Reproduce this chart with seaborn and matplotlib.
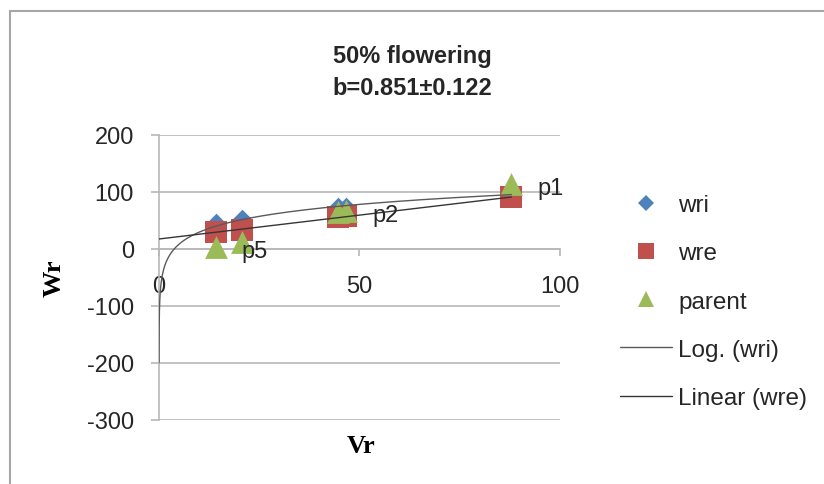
import numpy as np
import pandas as pd
import matplotlib
matplotlib.use("Agg")
import matplotlib.pyplot as plt
from matplotlib.lines import Line2D
import seaborn as sns

# ---------------- data ----------------
vr = [14.2, 20.7, 44.6, 46.7, 87.9]
wri = [43.5, 49.5, 71.0, 71.5, 100.0]
wre = [29.5, 32.5, 56.0, 56.5, 90.0]
parent = [3.5, 12.0, 65.0, 67.0, 113.0]
parent_labels = ["p5", "", "", "p2", "p1"]
series_names = ["wri", "wre", "parent"]
trend_names = ["Log. (wri)", "Linear (wre)"]
title_lines = ["50% flowering", "b=0.851\u00b10.122"]
x_ticks = [0, 50, 100]
y_ticks = [-300, -200, -100, 0, 100, 200]
log_floor = -200

# ---------------- style ----------------
sns.set_theme(style="white")
sans = ["Liberation Sans", "DejaVu Sans"]
serif = ["Liberation Serif", "DejaVu Serif"]
plt.rcParams["font.family"] = sans
plt.rcParams["axes.unicode_minus"] = False

colors = {"wri": "#4F81BD", "wre": "#C0504D", "parent": "#9BBB59"}
markers = {"wri": "D", "wre": "s", "parent": "^"}
sizes = {"wri": 120, "wre": 250, "parent": 270}
leg_ms = {"wri": 8.5, "wre": 12, "parent": 12}
grid_c = "#b7b7b7"
text_c = "#262626"
log_c = "#5a5a5a"
lin_c = "#363636"

fig = plt.figure(figsize=(8.24, 4.85), dpi=100)
ax = fig.add_axes([0.19296, 0.13258, 0.48665, 0.58763])

df = pd.DataFrame({
    "Vr": vr * 3,
    "Wr": wri + wre + parent,
    "series": sum([[n] * len(vr) for n in series_names], []),
})
for name in series_names:
    sub = df[df["series"] == name]
    sns.scatterplot(data=sub, x="Vr", y="Wr", marker=markers[name],
                    color=colors[name], s=sizes[name], linewidth=0,
                    ax=ax, zorder=3, legend=False)

# trendlines computed from the data
a, c = np.polyfit(np.log(vr), wri, 1)
x_log = np.geomspace(np.exp((log_floor - c) / a), max(vr), 500)
ax.plot(x_log, a * np.log(x_log) + c, color=log_c, lw=1.0, zorder=4)
m, b = np.polyfit(vr, wre, 1)
x_lin = np.array([0.0, max(vr)])
ax.plot(x_lin, m * x_lin + b, color=lin_c, lw=1.0, zorder=4)

# data labels for parents
for xv, yv, lab in zip(vr, parent, parent_labels):
    if lab:
        ax.annotate(lab, (xv, yv), xytext=(18.5, -3), textcoords="offset points",
                    ha="left", va="center", fontsize=17, color=text_c, zorder=5)

# axes
ax.set_xlim(0, 100)
ax.set_ylim(-300, 200)
ax.set_xticks(x_ticks)
ax.set_yticks(y_ticks)
ax.yaxis.grid(True, color=grid_c, lw=1.2)
ax.xaxis.grid(False)
ax.set_axisbelow(True)
for s in ["top", "right"]:
    ax.spines[s].set_visible(False)
ax.spines["bottom"].set_position(("data", 0))
for s in ["bottom", "left"]:
    ax.spines[s].set_color(grid_c)
    ax.spines[s].set_linewidth(1.2)
ax.tick_params(axis="x", bottom=True, direction="out", length=5, width=1.2,
               color=grid_c, pad=14, labelsize=17, labelcolor=text_c)
ax.tick_params(axis="y", left=True, direction="out", length=5.5, width=1.2,
               color=grid_c, pad=12.5, labelsize=17, labelcolor=text_c)

ax.set_xlabel("Vr", fontfamily=serif, fontweight="bold", fontsize=19, color="black")
ax.xaxis.set_label_coords(0.504, -0.092)
ax.xaxis.label.set_va("center")
ax.set_ylabel("Wr", fontfamily=serif, fontweight="bold", fontsize=19, color="black")
ax.yaxis.set_label_coords(-0.262, 0.5)
ax.yaxis.label.set_va("center")

# title
fig.text(0.5, 0.8505, "\n".join(title_lines), ha="center", va="center",
         fontsize=17, fontweight="bold", linespacing=1.45, color=text_c)

# legend
handles = [Line2D([], [], ls="none", marker=markers[n], color=colors[n],
                  markersize=leg_ms[n], markeredgewidth=0) for n in series_names]
handles += [Line2D([], [], color=log_c, lw=1.0), Line2D([], [], color=lin_c, lw=1.0)]
fig.legend(handles, series_names + trend_names, loc="upper left",
           bbox_to_anchor=(0.7524, 0.5977), frameon=False, fontsize=17.5,
           handlelength=2.15, handletextpad=0.25, labelspacing=1.08,
           borderpad=0, borderaxespad=0, labelcolor=text_c)

# chart-area border (left and top edges visible)
bx, by = 10 / 824, 1 - 12 / 485
fig.add_artist(Line2D([bx, bx], [0, by], transform=fig.transFigure, color="#a6a6a6", lw=1.5))
fig.add_artist(Line2D([bx, 1], [by, by], transform=fig.transFigure, color="#a6a6a6", lw=1.5))

fig.savefig("out.png", dpi=100)
